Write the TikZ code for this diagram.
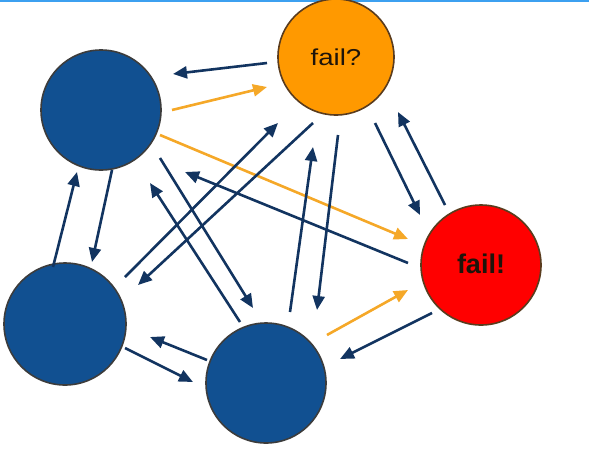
\documentclass[tikz,border=0pt]{standalone}
\usepackage{fontspec}
\setmainfont{Liberation Sans}
\usetikzlibrary{arrows.meta}
\definecolor{nodeblue}{RGB}{17,80,145}
\definecolor{nodeorange}{RGB}{255,153,0}
\definecolor{nodered}{RGB}{255,0,0}
\definecolor{rimgray}{RGB}{60,60,60}
\definecolor{rimbrown}{RGB}{90,60,30}
\definecolor{navy}{RGB}{18,52,96}
\definecolor{amber}{RGB}{245,168,40}
\definecolor{topblue}{RGB}{60,160,240}
\definecolor{textdark}{RGB}{30,20,10}
\tikzset{
  proc/.style={circle, draw=rimgray, line width=1.6pt, minimum size=120pt, inner sep=0pt},
  darrow/.style={draw=navy, line width=2.6pt, -{Triangle[length=14pt,width=12pt]}, fill=navy},
  oarrow/.style={draw=amber, line width=2.6pt, -{Triangle[length=14pt,width=12pt]}, fill=amber},
  topline/.style={draw=topblue, line width=2.5pt}
}
\begin{document}
\begin{tikzpicture}[x=1pt,y=-1pt]
\useasboundingbox (0,0) rectangle (589,448);
\coordinate (tl) at (0,1);
\coordinate (tr) at (589,1);
\draw[topline] (tl) -- (tr);

\node[proc, fill=nodeblue] (A) at (101,110) {};
\node[proc, fill=nodeorange, draw=rimbrown, minimum size=116pt] (Q) at (336,57) {\raisebox{-5pt}{\color{textdark}\fontsize{23}{25}\selectfont\scalebox{1.2}[1]{fail?}}};
\node[proc, fill=nodered, draw=rimbrown] (R) at (481,265) {\raisebox{3pt}{\color{textdark}\fontsize{27}{30}\selectfont\bfseries fail!}};
\node[proc, fill=nodeblue, minimum size=122pt] (L) at (65,324) {};
\node[proc, fill=nodeblue] (B) at (266,383) {};

% endpoints
\coordinate (a1s) at (267,63);  \coordinate (a1e) at (173,74);
\coordinate (a2s) at (172,110); \coordinate (a2e) at (267,87);
\coordinate (a3s) at (160,135); \coordinate (a3e) at (408,239);
\coordinate (a4s) at (408,263); \coordinate (a4e) at (185,172);
\coordinate (a5s) at (125,277); \coordinate (a5e) at (278,123);
\coordinate (a6s) at (313,123); \coordinate (a6e) at (138,285);
\coordinate (a7s) at (160,158); \coordinate (a7e) at (253,308);
\coordinate (a8s) at (240,322); \coordinate (a8e) at (150,183);
\coordinate (a9s) at (112,170); \coordinate (a9e) at (92,262);
\coordinate (a10s) at (53,267); \coordinate (a10e) at (77,172);
\coordinate (a11s) at (125,348); \coordinate (a11e) at (193,382);
\coordinate (a12s) at (207,360); \coordinate (a12e) at (150,337);
\coordinate (a13s) at (327,335); \coordinate (a13e) at (408,290);
\coordinate (a14s) at (432,313); \coordinate (a14e) at (340,359);
\coordinate (a15s) at (375,123); \coordinate (a15e) at (420,215);
\coordinate (a16s) at (445,205); \coordinate (a16e) at (398,112);
\coordinate (a17s) at (290,312); \coordinate (a17e) at (313,147);
\coordinate (a18s) at (338,135); \coordinate (a18e) at (317,310);

\draw[darrow] (a1s) -- (a1e);
\draw[oarrow] (a2s) -- (a2e);
\draw[oarrow] (a3s) -- (a3e);
\draw[darrow] (a4s) -- (a4e);
\draw[darrow] (a5s) -- (a5e);
\draw[darrow] (a6s) -- (a6e);
\draw[darrow] (a7s) -- (a7e);
\draw[darrow] (a8s) -- (a8e);
\draw[darrow] (a9s) -- (a9e);
\draw[darrow] (a10s) -- (a10e);
\draw[darrow] (a11s) -- (a11e);
\draw[darrow] (a12s) -- (a12e);
\draw[oarrow] (a13s) -- (a13e);
\draw[darrow] (a14s) -- (a14e);
\draw[darrow] (a15s) -- (a15e);
\draw[darrow] (a16s) -- (a16e);
\draw[darrow] (a17s) -- (a17e);
\draw[darrow] (a18s) -- (a18e);
\end{tikzpicture}
\end{document}
